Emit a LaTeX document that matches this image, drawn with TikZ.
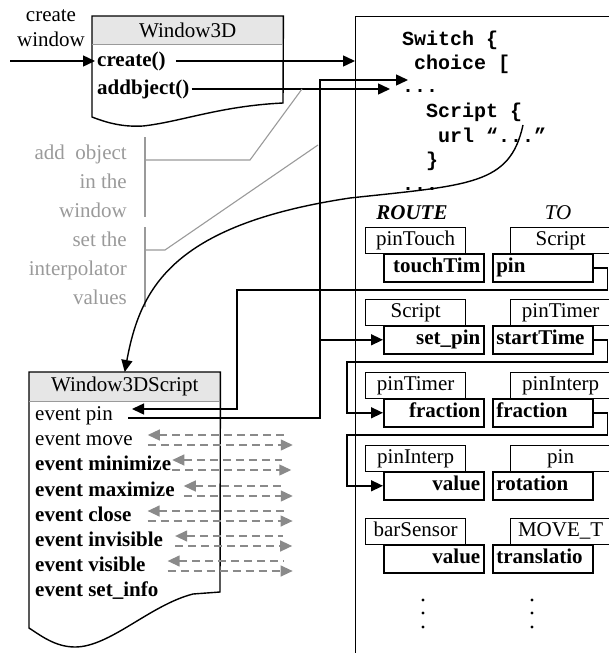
\documentclass[tikz,border=0pt]{standalone}
\usepackage{fontspec}
\setmainfont{Liberation Serif}
\setmonofont{Liberation Mono}
\usetikzlibrary{arrows.meta}
\definecolor{hdrgray}{HTML}{E6E6E6}
\definecolor{notegray}{HTML}{9A9A9A}
\definecolor{dashgray}{HTML}{8A8A8A}
\newcommand{\labelsize}{\fontsize{21}{25}\selectfont}
\newcommand{\notesize}{\fontsize{21}{29}\selectfont}
\newcommand{\codesize}{\fontsize{20}{24}\selectfont}
\tikzstyle{boxline}=[line width=1.4pt]
\tikzstyle{arr}=[line width=1.4pt, -{Triangle[length=12pt,width=11pt]}]
\tikzstyle{headbox}=[fill=hdrgray, minimum height=28pt, inner sep=0pt, anchor=north west, font=\labelsize]
\tikzstyle{member}=[anchor=west, inner sep=2pt, text height=15pt, text depth=5pt, font=\labelsize]
\tikzstyle{boldmember}=[member, font=\labelsize\bfseries]
\tikzstyle{note}=[text=notegray, align=right, inner sep=0pt, anchor=south east, font=\notesize]
\tikzstyle{noteline}=[draw=notegray, line width=1.1pt]
\tikzstyle{dashin}=[draw=dashgray, line width=1.3pt, dash pattern=on 8pt off 5pt, {Triangle[length=12pt,width=11pt]}-]
\tikzstyle{dashout}=[draw=dashgray, line width=1.3pt, dash pattern=on 8pt off 5pt, -{Triangle[length=12pt,width=11pt]}]
\tikzstyle{code}=[anchor=base west, inner sep=0pt, font=\codesize\ttfamily\bfseries]
\tikzstyle{namebox}=[draw, line width=1.3pt, fill=white, minimum width=100pt, minimum height=26pt, inner sep=0pt, anchor=north west, text height=15pt, text depth=5pt, font=\labelsize]
\tikzstyle{inbox}=[namebox, line width=1.6pt, minimum height=28pt, text width=93pt, align=right, font=\labelsize\bfseries]
\tikzstyle{outbox}=[namebox, line width=1.6pt, minimum height=28pt, text width=93pt, align=left, font=\labelsize\bfseries]

\begin{document}
\begin{tikzpicture}[x=1pt, y=-1pt, font=\labelsize]
		\useasboundingbox (0,0) rectangle (609,653);
		\clip (0,0) rectangle (609,653);
		%%%%%%% switch box
		\node (switchbox) [draw, boxline, anchor=north west, minimum width=300pt, minimum height=700pt, inner sep=0pt] at (355,16) {};
		\node (code1) [code] at (402,45) {Switch \{};
		\node (code2) [code] at (414,69) {choice [};
		\node (code3) [code] at (402,92) {...};
		\node (code4) [code] at (426,117) {Script \{};
		\node (code5) [code] at (438,142) {url “...”};
		\node (code6) [code] at (426,166) {\}};
		\node (code7) [code] at (402,190) {...};
		\coordinate (addin) at (390,89);
		\coordinate (dotsin) at (408,80);
		\coordinate (scriptref) at (523,125);
		%%%%%%% Window3D
		\node (crtlbl) [align=center, inner sep=0pt, anchor=south] at (51,47) {create\\window};
		\node (w3dhead) [headbox, minimum width=191pt] at (92,16) {Window3D};
		\draw[boxline] (w3dhead.north west) -- (w3dhead.north east) -- (283,103)
			.. controls (220,106) and (180,122) .. (143,126)
			.. controls (125,127) and (110,124) .. (92,117) -- cycle;
		\draw[notegray, line width=1.1pt] (w3dhead.south west) -- (w3dhead.south east);
		\node (create) [boldmember] at (95,61) {create()};
		\node (addobj) [boldmember] at (95,89) {addbject()};
		\coordinate (crtin) at (10,61);
		\draw[arr] (crtin) -- (create.west);
		\draw[arr] ([xshift=8pt]create.east) -- (create.east -| switchbox.west);
		\draw[arr] (addobj.east) -- (addin);
		%%%%%%% notes
		\node (addnote) [note] at (127,218) {add\ \ object\\in the\\window};
		\draw[noteline] (145,137) -- (145,217);
		\draw[noteline] (145,160) -- (250,160) -- (302,89);
		\node (setnote) [note] at (127,305) {set the\\interpolator\\values};
		\draw[noteline] (145,227) -- (145,307);
		\draw[noteline] (145,250) -- (165,250) -- (318,145);
		%%%%%%% Window3DScript
		\node (w3dshead) [headbox, minimum width=191pt, minimum height=29pt] at (29,372) {Window3DScript};
		\draw[boxline] (w3dshead.north west) -- (w3dshead.north east) -- (220,592) -- (193,594)
			.. controls (150,605) and (110,647) .. (75,647)
			.. controls (55,647) and (40,635) .. (29,628) -- cycle;
		\draw[notegray, line width=1.1pt] (w3dshead.south west) -- (w3dshead.south east);
		\node (evpin) [member] at (33,415) {event pin};
		\node (evmove) [member] at (33,440) {event move};
		\node (evmin) [boldmember] at (33,465) {event minimize};
		\node (evmax) [boldmember] at (33,491) {event maximize};
		\node (evclose) [boldmember] at (33,516) {event close};
		\node (evinvis) [boldmember] at (33,541) {event invisible};
		\node (evvis) [boldmember] at (33,566) {event visible};
		\node (evinfo) [boldmember] at (33,591) {event set\_info};
		\coordinate (pinin) at (132,409);
		\coordinate (pinout) at (128,418);
		\coordinate (vbus) at (320,80);
		%%%%%%% event arrows
		\draw[dashin] ([xshift=13pt,yshift=5pt]evmove.east) -- +(136,0);
		\draw[dashout] ([xshift=13pt,yshift=-5pt]evmove.east) -- +(145,0);
		\draw[dashin] ([xshift=-1pt,yshift=5pt]evmin.east) -- +(110,0);
		\draw[dashout] ([xshift=-1pt,yshift=-5pt]evmin.east) -- +(119,0);
		\draw[dashin] ([xshift=7pt,yshift=5pt]evmax.east) -- +(100,0);
		\draw[dashout] ([xshift=7pt,yshift=-5pt]evmax.east) -- +(109,0);
		\draw[dashin] ([xshift=14pt,yshift=5pt]evclose.east) -- +(136,0);
		\draw[dashout] ([xshift=14pt,yshift=-5pt]evclose.east) -- +(145,0);
		\draw[dashin] ([xshift=10pt,yshift=5pt]evinvis.east) -- +(108,0);
		\draw[dashout] ([xshift=10pt,yshift=-5pt]evinvis.east) -- +(117,0);
		\draw[dashin] ([xshift=20pt,yshift=5pt]evvis.east) -- +(116,0);
		\draw[dashout] ([xshift=20pt,yshift=-5pt]evvis.east) -- +(125,0);
		%%%%%%% routes
		\node (routehd) [font=\labelsize\bfseries\itshape] at (412,213) {ROUTE};
		\node (tohd) [font=\labelsize\itshape] at (558,213) {TO};
		%%%%%%%
		\node (r1src) [namebox] at (365,227) {pinTouch};
		\node (r1in) [inbox] at (383,253) {touchTim};
		\node (r1dst) [namebox] at (510,227) {Script};
		\node (r1out) [outbox] at (492,253) {pin};
		%%%%%%%
		\node (r2src) [namebox] at (365,299) {Script};
		\node (r2in) [inbox] at (383,325) {set\_pin};
		\node (r2dst) [namebox] at (510,299) {pinTimer};
		\node (r2out) [outbox] at (492,325) {startTime};
		%%%%%%%
		\node (r3src) [namebox] at (365,372) {pinTimer};
		\node (r3in) [inbox] at (383,398) {fraction};
		\node (r3dst) [namebox] at (510,372) {pinInterp};
		\node (r3out) [outbox] at (492,398) {fraction};
		%%%%%%%
		\node (r4src) [namebox] at (365,445) {pinInterp};
		\node (r4in) [inbox] at (383,471) {value};
		\node (r4dst) [namebox] at (510,445) {pin};
		\node (r4out) [outbox] at (492,471) {rotation};
		%%%%%%%
		\node (r5src) [namebox] at (365,518) {barSensor};
		\node (r5in) [inbox] at (383,544) {value};
		\node (r5dst) [namebox] at (510,518) {MOVE\_T};
		\node (r5out) [outbox] at (492,544) {translatio};
		%%%%%%%
		\foreach \x in {423,532}
			\foreach \y in {600,613,627}
				\fill (\x,\y) circle (1.6pt);
		%%%%%%% connections
		\draw[arr] (r1out.east) -- ++(14,0) |- (237,290) |- (pinin);
		\draw[arr] (pinout) -| (vbus) -- (dotsin);
		\draw[arr] (r2in.west -| vbus) -- (r2in.west);
		\draw[arr] (r2out.east) -- ++(14,0) |- (347,362) |- (r3in.west);
		\draw[arr] (r3out.east) -- ++(14,0) |- (347,435) |- (r4in.west);
		\draw[arr] (scriptref) .. controls (510,185) and (470,185) .. (350,198)
			.. controls (170,225) and (140,290) .. (w3dshead.north);
\end{tikzpicture}
\end{document}
